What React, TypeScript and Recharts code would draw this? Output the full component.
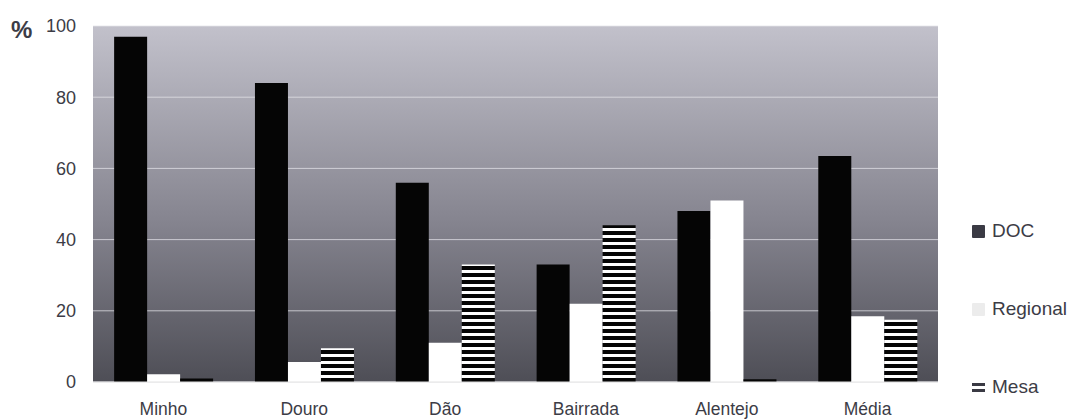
import { BarChart, Bar, XAxis, YAxis, CartesianGrid } from "recharts";

const REGIONS = ["Minho", "Douro", "Dão", "Bairrada", "Alentejo", "Média"];
const DOC = [97, 84, 56, 33, 48, 63.5];
const REGIONAL = [2.2, 5.6, 11, 22, 51, 18.5];
const MESA = [1, 9.5, 33, 44, 0.8, 17.5];
const Y_TICKS = [0, 20, 40, 60, 80, 100];

const SERIES = [
  { key: "doc", name: "DOC", fill: "#050505", marker: "square", markerColor: "#3a3a44" },
  { key: "regional", name: "Regional", fill: "#ffffff", marker: "square", markerColor: "#ececec" },
  { key: "mesa", name: "Mesa", fill: "url(#mesaStripes)", marker: "equals", markerColor: "#3a3a44" },
];

const data = REGIONS.map((region, i) => ({
  region,
  doc: DOC[i],
  regional: REGIONAL[i],
  mesa: MESA[i],
}));

const FONT = "'Liberation Sans', Arial, sans-serif";
const TEXT_COLOR = "#3c3c46";

function LegendMarker({ type, color }: { type: string; color: string }) {
  if (type === "equals") {
    return (
      <span style={{ display: "inline-flex", flexDirection: "column", justifyContent: "center", width: 13, height: 13, gap: 3 }}>
        <span style={{ display: "block", height: 3, background: color }} />
        <span style={{ display: "block", height: 3, background: color }} />
      </span>
    );
  }
  return <span style={{ display: "inline-block", width: 13, height: 13, background: color, borderRadius: 1 }} />;
}

export default function App() {
  return (
    <div style={{ position: "absolute", left: 0, top: 0, width: 1071, height: 420, background: "#fff", fontFamily: FONT }}>
      <BarChart
        width={1071}
        height={420}
        data={data}
        margin={{ top: 26, right: 133, left: 0, bottom: 0 }}
        barCategoryGap="15%"
        barGap={0}
      >
        <defs>
          <linearGradient id="plotBg" x1="0" y1="0" x2="0" y2="1">
            <stop offset="0%" stopColor="#c2c1cb" />
            <stop offset="55%" stopColor="#85848f" />
            <stop offset="100%" stopColor="#4e4e56" />
          </linearGradient>
          <pattern id="mesaStripes" width="8" height="7" patternUnits="userSpaceOnUse">
            <rect width="8" height="7" fill="#ffffff" />
            <rect width="8" height="4" fill="#050505" />
          </pattern>
        </defs>
        <CartesianGrid vertical={false} fill="url(#plotBg)" stroke="#e4e4ea" strokeOpacity={0.75} />
        <XAxis
          dataKey="region"
          height={38}
          tickLine={false}
          tickSize={0}
          tickMargin={21}
          axisLine={{ stroke: "#e2e2e2" }}
          tick={{ fill: TEXT_COLOR, fontSize: 17.5, fontFamily: FONT }}
        />
        <YAxis
          width={93}
          domain={[0, 100]}
          ticks={Y_TICKS}
          tickLine={false}
          axisLine={false}
          tickSize={0}
          tickMargin={17}
          tick={{ fill: TEXT_COLOR, fontSize: 18, fontFamily: FONT }}
        />
        {SERIES.map((s) => (
          <Bar key={s.key} dataKey={s.key} name={s.name} fill={s.fill} isAnimationActive={false} />
        ))}
      </BarChart>

      <span style={{ position: "absolute", left: 11, top: 16, fontSize: 24, fontWeight: "bold", color: TEXT_COLOR }}>%</span>

      {SERIES.map((s, i) => (
        <div
          key={s.key}
          style={{
            position: "absolute",
            left: 972,
            top: 220 + i * 78,
            display: "flex",
            alignItems: "center",
            gap: 7,
            fontSize: 19,
            color: TEXT_COLOR,
            lineHeight: "22px",
          }}
        >
          <LegendMarker type={s.marker} color={s.markerColor} />
          <span>{s.name}</span>
        </div>
      ))}
    </div>
  );
}
